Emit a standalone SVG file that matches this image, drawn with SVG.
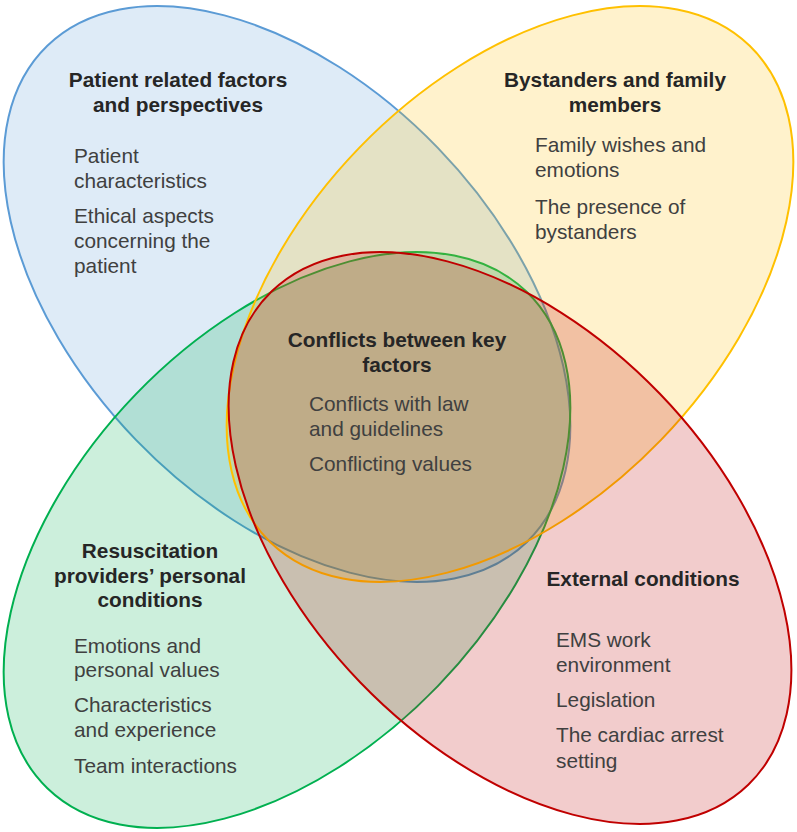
<svg xmlns="http://www.w3.org/2000/svg" width="797" height="832" viewBox="0 0 797 832">
<style>
.shape{stroke-width:2}
.blue{fill:#5b9bd5;fill-opacity:.2;stroke:#5b9bd5}
.yellow{fill:#ffc000;fill-opacity:.2;stroke:#ffc000}
.green{fill:#00b050;fill-opacity:.2;stroke:#00b050}
.red{fill:#c00000;fill-opacity:.2;stroke:#c00000}
text{font-family:"Liberation Sans",Arial,sans-serif;font-size:20.8px}
.h{font-weight:bold;fill:#262626;text-anchor:middle}
.i{fill:#404040}
</style>
<rect width="797" height="832" fill="#ffffff"/>
<g id="node-patient">
<ellipse class="shape blue" cx="287" cy="294" rx="345" ry="210" transform="rotate(46 287 294)"/>
<text class="h" x="178" y="87">Patient related factors</text>
<text class="h" x="178" y="112">and perspectives</text>
<text class="i" x="74" y="163">Patient</text>
<text class="i" x="74" y="188">characteristics</text>
<text class="i" x="74" y="223">Ethical aspects</text>
<text class="i" x="74" y="248">concerning the</text>
<text class="i" x="74" y="273">patient</text>
</g>
<g id="node-providers">
<ellipse class="shape green" cx="287" cy="540" rx="345" ry="210" transform="rotate(-46 287 540)"/>
<text class="h" x="150" y="558">Resuscitation</text>
<text class="h" x="150" y="583">providers’ personal</text>
<text class="h" x="150" y="607">conditions</text>
<text class="i" x="74" y="653">Emotions and</text>
<text class="i" x="74" y="677">personal values</text>
<text class="i" x="74" y="712">Characteristics</text>
<text class="i" x="74" y="737">and experience</text>
<text class="i" x="74" y="773">Team interactions</text>
</g>
<g id="node-bystanders">
<ellipse class="shape yellow" cx="510" cy="294" rx="345" ry="210" transform="rotate(-46 510 294)"/>
<text class="h" x="615" y="87">Bystanders and family</text>
<text class="h" x="615" y="112">members</text>
<text class="i" x="535" y="152">Family wishes and</text>
<text class="i" x="535" y="177">emotions</text>
<text class="i" x="535" y="214">The presence of</text>
<text class="i" x="535" y="239">bystanders</text>
</g>
<g id="node-external">
<ellipse class="shape red" cx="510" cy="538" rx="343" ry="208" transform="rotate(46 510 538)"/>
<text class="h" x="643" y="586">External conditions</text>
<text class="i" x="556" y="647">EMS work</text>
<text class="i" x="556" y="672">environment</text>
<text class="i" x="556" y="707">Legislation</text>
<text class="i" x="556" y="742">The cardiac arrest</text>
<text class="i" x="556" y="768">setting</text>
</g>
<g id="node-conflicts">
<text class="h" x="397" y="347">Conflicts between key</text>
<text class="h" x="397" y="372">factors</text>
<text class="i" x="309" y="411">Conflicts with law</text>
<text class="i" x="309" y="436">and guidelines</text>
<text class="i" x="309" y="471">Conflicting values</text>
</g>
</svg>
